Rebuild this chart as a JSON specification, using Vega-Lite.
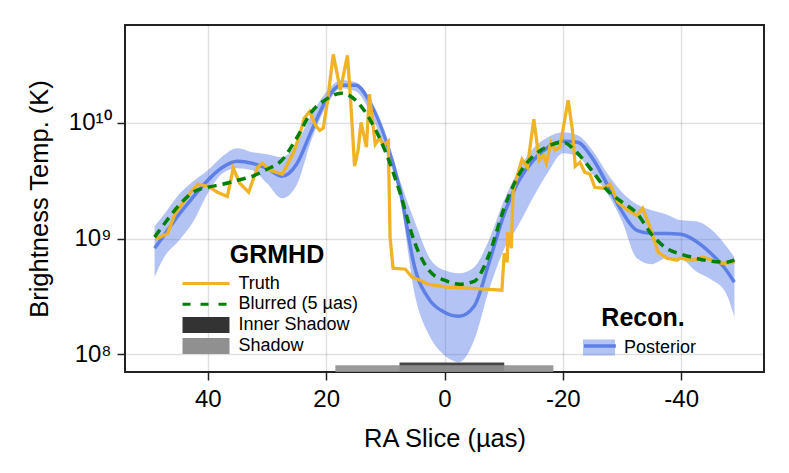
{
  "$schema": "https://vega.github.io/schema/vega-lite/v6.json",
  "description": "Brightness temperature by RA slice, GRMHD truth against reconstruction posterior.",
  "width": 639,
  "height": 347,
  "autosize": {"type": "none"},
  "padding": {"left": 125, "top": 25, "right": 25, "bottom": 101},
  "background": "white",
  "datasets": {
    "curves": [
      {"ra": 49, "mean": 8.26e8, "hi": 1.28e9, "lo": 4.64e8, "blurred": 1.03e9},
      {"ra": 47.5, "mean": 1.05e9, "hi": 1.59e9, "lo": 6.77e8, "blurred": 1.31e9},
      {"ra": 45, "mean": 1.59e9, "hi": 2.37e9, "lo": 9.5e8, "blurred": 1.91e9},
      {"ra": 42.5, "mean": 2.28e9, "hi": 3.13e9, "lo": 1.39e9, "blurred": 2.52e9},
      {"ra": 40, "mean": 3.2e9, "hi": 3.9e9, "lo": 2.47e9, "blurred": 2.78e9},
      {"ra": 37.5, "mean": 4.14e9, "hi": 5.16e9, "lo": 3.67e9, "blurred": 2.95e9},
      {"ra": 35, "mean": 4.66e9, "hi": 6.04e9, "lo": 4.06e9, "blurred": 3.2e9},
      {"ra": 32.5, "mean": 4.48e9, "hi": 5.58e9, "lo": 3.9e9, "blurred": 3.46e9},
      {"ra": 30, "mean": 4.06e9, "hi": 5.37e9, "lo": 3.01e9, "blurred": 3.98e9},
      {"ra": 27.5, "mean": 3.46e9, "hi": 5.05e9, "lo": 2.23e9, "blurred": 4.76e9},
      {"ra": 25, "mean": 4.4e9, "hi": 6.68e9, "lo": 2.9e9, "blurred": 7.38e9},
      {"ra": 22.5, "mean": 8.48e9, "hi": 1.17e10, "lo": 7.09e9, "blurred": 1.24e10},
      {"ra": 20, "mean": 1.57e10, "hi": 1.84e10, "lo": 1.39e10, "blurred": 1.6e10},
      {"ra": 17.5, "mean": 2.12e10, "hi": 2.34e10, "lo": 2.0e10, "blurred": 1.81e10},
      {"ra": 15, "mean": 2.12e10, "hi": 2.25e10, "lo": 1.88e10, "blurred": 1.57e10},
      {"ra": 12.5, "mean": 1.48e10, "hi": 1.57e10, "lo": 1.21e10, "blurred": 1.05e10},
      {"ra": 10, "mean": 7.38e9, "hi": 7.67e9, "lo": 5.81e9, "blurred": 5.69e9},
      {"ra": 7.5, "mean": 2.62e9, "hi": 3.13e9, "lo": 2.19e9, "blurred": 2.47e9},
      {"ra": 5, "mean": 5.55e8, "hi": 1.39e9, "lo": 3.24e8, "blurred": 9.13e8},
      {"ra": 2.5, "mean": 2.94e8, "hi": 6.77e8, "lo": 1.43e8, "blurred": 5.23e8},
      {"ra": 0, "mean": 2.31e8, "hi": 5.33e8, "lo": 9.82e7, "blurred": 4.37e8},
      {"ra": -2.5, "mean": 2.13e8, "hi": 5.02e8, "lo": 8.55e7, "blurred": 4.04e8},
      {"ra": -5, "mean": 2.6e8, "hi": 5.66e8, "lo": 1.32e8, "blurred": 4.28e8},
      {"ra": -7.5, "mean": 6.13e8, "hi": 9.68e8, "lo": 3.58e8, "blurred": 7.19e8},
      {"ra": -10, "mean": 1.59e9, "hi": 2.1e9, "lo": 7.94e8, "blurred": 1.79e9},
      {"ra": -12.5, "mean": 3.13e9, "hi": 3.9e9, "lo": 1.31e9, "blurred": 3.53e9},
      {"ra": -15, "mean": 4.76e9, "hi": 6.04e9, "lo": 2.28e9, "blurred": 5.16e9},
      {"ra": -17.5, "mean": 6.17e9, "hi": 7.53e9, "lo": 3.75e9, "blurred": 6.29e9},
      {"ra": -20, "mean": 6.95e9, "hi": 8.31e9, "lo": 5.47e9, "blurred": 6.81e9},
      {"ra": -22.5, "mean": 6.81e9, "hi": 7.83e9, "lo": 5.16e9, "blurred": 5.47e9},
      {"ra": -25, "mean": 4.95e9, "hi": 5.81e9, "lo": 3.6e9, "blurred": 3.83e9},
      {"ra": -27.5, "mean": 2.95e9, "hi": 3.67e9, "lo": 2.47e9, "blurred": 2.62e9},
      {"ra": -30, "mean": 1.72e9, "hi": 2.52e9, "lo": 1.42e9, "blurred": 2.07e9},
      {"ra": -32.5, "mean": 1.18e9, "hi": 1.98e9, "lo": 6.77e8, "blurred": 1.66e9},
      {"ra": -35, "mean": 1.11e9, "hi": 1.76e9, "lo": 6.01e8, "blurred": 1.09e9},
      {"ra": -37.5, "mean": 1.11e9, "hi": 1.62e9, "lo": 6.77e8, "blurred": 8.26e8},
      {"ra": -40, "mean": 1.09e9, "hi": 1.44e9, "lo": 6.64e8, "blurred": 7.33e8},
      {"ra": -42.5, "mean": 9.5e8, "hi": 1.41e9, "lo": 5.23e8, "blurred": 6.77e8},
      {"ra": -45, "mean": 7.48e8, "hi": 1.21e9, "lo": 4.46e8, "blurred": 6.38e8},
      {"ra": -47.5, "mean": 5.44e8, "hi": 8.77e8, "lo": 3.44e8, "blurred": 6.25e8},
      {"ra": -49, "mean": 4.2e8, "hi": 6.91e8, "lo": 2.09e8, "blurred": 6.51e8}
    ],
    "truth": [
      {"ra": 48.8, "temp": 9.88e8}, {"ra": 46.8, "temp": 1.11e9}, {"ra": 45.5, "temp": 1.66e9},
      {"ra": 42.9, "temp": 2.52e9}, {"ra": 41.7, "temp": 2.95e9}, {"ra": 39.9, "temp": 2.84e9},
      {"ra": 38.4, "temp": 2.52e9}, {"ra": 36.7, "temp": 2.32e9}, {"ra": 35.7, "temp": 4.06e9},
      {"ra": 34.6, "temp": 3.01e9}, {"ra": 33.1, "temp": 2.52e9}, {"ra": 31.6, "temp": 4.14e9},
      {"ra": 30.8, "temp": 4.48e9}, {"ra": 29.4, "temp": 3.9e9}, {"ra": 27.4, "temp": 3.6e9},
      {"ra": 25.5, "temp": 5.58e9}, {"ra": 24.4, "temp": 8.14e9}, {"ra": 23.7, "temp": 1.1e10},
      {"ra": 22.8, "temp": 1.26e10}, {"ra": 21.8, "temp": 9.55e9}, {"ra": 21.1, "temp": 8.64e9},
      {"ra": 20.5, "temp": 9.0e9}, {"ra": 19.8, "temp": 1.51e10}, {"ra": 18.8, "temp": 3.92e10},
      {"ra": 17.6, "temp": 1.92e10}, {"ra": 16.4, "temp": 3.85e10}, {"ra": 15.9, "temp": 1.67e10},
      {"ra": 15.2, "temp": 4.23e9}, {"ra": 14.6, "temp": 5.81e9}, {"ra": 14.1, "temp": 1.01e10},
      {"ra": 13.2, "temp": 6.17e9}, {"ra": 12.7, "temp": 1.77e10}, {"ra": 11.7, "temp": 6.55e9},
      {"ra": 11.0, "temp": 7.38e9}, {"ra": 10.3, "temp": 6.42e9}, {"ra": 9.5, "temp": 6.95e9},
      {"ra": 9.2, "temp": 1.03e9}, {"ra": 8.7, "temp": 5.55e8}, {"ra": 6.6, "temp": 5.44e8},
      {"ra": 5.5, "temp": 4.64e8}, {"ra": 4.1, "temp": 4.37e8}, {"ra": 2.8, "temp": 4.04e8},
      {"ra": -0.6, "temp": 3.8e8}, {"ra": -4.8, "temp": 3.72e8}, {"ra": -9.7, "temp": 3.58e8},
      {"ra": -10.1, "temp": 7.48e8}, {"ra": -10.6, "temp": 6.25e8}, {"ra": -10.7, "temp": 1.14e9},
      {"ra": -11.3, "temp": 8.26e8}, {"ra": -11.6, "temp": 2.62e9}, {"ra": -13.1, "temp": 4.85e9},
      {"ra": -14.0, "temp": 4.14e9}, {"ra": -15.1, "temp": 1.08e10}, {"ra": -16.0, "temp": 4.76e9},
      {"ra": -16.7, "temp": 5.26e9}, {"ra": -17.2, "temp": 4.48e9}, {"ra": -18.0, "temp": 6.81e9},
      {"ra": -18.7, "temp": 5.81e9}, {"ra": -19.5, "temp": 6.17e9}, {"ra": -20.9, "temp": 1.57e10},
      {"ra": -21.6, "temp": 8.83e9}, {"ra": -22.1, "temp": 4.23e9}, {"ra": -22.9, "temp": 4.57e9},
      {"ra": -23.7, "temp": 3.75e9}, {"ra": -24.6, "temp": 3.6e9}, {"ra": -25.4, "temp": 2.78e9},
      {"ra": -26.8, "temp": 2.73e9}, {"ra": -28.0, "temp": 2.95e9}, {"ra": -29.3, "temp": 2.07e9},
      {"ra": -30.5, "temp": 1.83e9}, {"ra": -32.5, "temp": 1.59e9}, {"ra": -33.5, "temp": 1.83e9},
      {"ra": -35.1, "temp": 1.11e9}, {"ra": -36.1, "temp": 7.63e8}, {"ra": -37.6, "temp": 6.77e8},
      {"ra": -39.3, "temp": 6.51e8}, {"ra": -39.8, "temp": 6.77e8}, {"ra": -42.0, "temp": 6.51e8},
      {"ra": -43.7, "temp": 6.91e8}, {"ra": -46.9, "temp": 6.13e8}, {"ra": -49.0, "temp": 6.25e8}
    ],
    "shadows": [
      {"item": "Inner Shadow", "start": 7.6, "end": -10.1, "top": 8.5e7, "floor": 7.03e7},
      {"item": "Shadow", "start": 18.45, "end": -18.4, "top": 8.05e7, "floor": 7.03e7}
    ]
  },
  "encoding": {
    "x": {
      "type": "quantitative",
      "scale": {"domain": [54, -54], "nice": false, "zero": false},
      "axis": {
        "title": "RA Slice (µas)",
        "values": [40, 20, 0, -20, -40],
        "labelExpr": "'' + datum.value",
        "titleFontSize": 25.5,
        "titleFontWeight": "normal",
        "titlePadding": 15,
        "labelFontSize": 24,
        "labelPadding": 7,
        "tickSize": 8,
        "tickWidth": 1.5,
        "tickColor": "#222",
        "labelColor": "black",
        "titleColor": "black",
        "domain": false,
        "gridColor": "#000",
        "gridOpacity": 0.12,
        "gridWidth": 1.5
      }
    },
    "y": {
      "type": "quantitative",
      "scale": {"type": "log", "domain": [7.03e7, 7.03e10], "nice": false},
      "axis": {
        "title": "Brightness Temp. (K)",
        "values": [1e8, 1e9, 1e10],
        "labelExpr": "datum.value >= 1e10 ? '10¹⁰' : datum.value >= 1e9 ? '10⁹' : '10⁸'",
        "titleFontSize": 25.5,
        "titleFontWeight": "normal",
        "titlePadding": 16,
        "labelFontSize": 24,
        "labelPadding": 6,
        "tickSize": 8,
        "tickWidth": 1.5,
        "tickColor": "#222",
        "labelColor": "black",
        "titleColor": "black",
        "domain": false,
        "gridColor": "#000",
        "gridOpacity": 0.12,
        "gridWidth": 1.5
      }
    }
  },
  "layer": [
    {
      "data": {"name": "curves"},
      "mark": {"type": "area", "interpolate": "monotone"},
      "encoding": {
        "x": {"field": "ra"},
        "y": {"field": "hi"},
        "y2": {"field": "lo"},
        "fill": {
          "datum": "Posterior",
          "type": "nominal",
          "scale": {"domain": ["Posterior"], "range": ["rgba(65,105,225,0.4)"]},
          "legend": {
            "orient": "none",
            "legendX": 465,
            "legendY": 281,
            "title": "Recon.",
            "titleFontSize": 25,
            "titleFontWeight": "bold",
            "titleColor": "black",
            "titleAnchor": "middle",
            "titlePadding": 7.5,
            "labelFontSize": 18,
            "labelColor": "black",
            "labelOffset": 16,
            "symbolSize": 256,
            "encoding": {
              "symbols": {
                "shape": {"value": "M-2,-1H2V1H-2Z"},
                "strokeWidth": {"value": 0}
              }
            }
          }
        }
      }
    },
    {
      "data": {"name": "curves"},
      "mark": {"type": "line", "interpolate": "monotone", "strokeWidth": 3.5, "opacity": 0.75},
      "encoding": {
        "x": {"field": "ra"},
        "y": {"field": "mean"},
        "stroke": {
          "datum": "Posterior mean",
          "type": "nominal",
          "scale": {"domain": ["Posterior mean"], "range": ["#4169e1"]},
          "legend": {
            "orient": "none",
            "legendX": 465,
            "legendY": 311,
            "title": null,
            "labelExpr": "''",
            "labelFontSize": 18,
            "labelOffset": 16,
            "symbolSize": 256,
            "zindex": 2,
            "encoding": {
              "symbols": {
                "shape": {"value": "M-2,0H2"},
                "strokeWidth": {"value": 3.5},
                "fill": {"value": {"signal": "'transparent'"}}
              }
            }
          }
        }
      }
    },
    {
      "data": {"name": "shadows"},
      "mark": {"type": "rect", "opacity": 0.9},
      "encoding": {
        "x": {"field": "start"},
        "x2": {"field": "end"},
        "y": {"field": "top"},
        "y2": {"field": "floor"},
        "color": {
          "field": "item",
          "type": "nominal",
          "sort": null,
          "scale": {
            "domain": ["Truth", "Blurred (5 µas)", "Inner Shadow", "Shadow"],
            "range": ["#efb325", "#008000", "#333333", "#909090"]
          },
          "legend": {
            "orient": "none",
            "legendX": 72,
            "legendY": 218,
            "title": "GRMHD",
            "titleFontSize": 25,
            "titleFontWeight": "bold",
            "titleColor": "black",
            "titleAnchor": "middle",
            "titlePadding": 6.5,
            "labelFontSize": 18,
            "labelColor": "black",
            "labelOffset": 23.5,
            "symbolSize": 324,
            "rowPadding": 2.8,
            "encoding": {
              "symbols": {
                "shape": {"value": {"signal": "datum.value == 'Truth' || datum.value == 'Blurred (5 µas)' ? 'M-2.61,0H2.61' : 'M-2.61,-0.89H2.61V0.89H-2.61Z'"}},
                "opacity": {"value": 1},
                "strokeWidth": {"value": {"signal": "datum.value == 'Truth' || datum.value == 'Blurred (5 µas)' ? 3 : 0"}},
                "strokeDash": {"value": {"signal": "datum.value == 'Blurred (5 µas)' ? [8, 10] : []"}},
                "stroke": {"value": {"signal": "datum.value == 'Truth' ? '#efb325' : datum.value == 'Blurred (5 µas)' ? '#008000' : 'transparent'"}},
                "fill": {"value": {"signal": "datum.value == 'Inner Shadow' ? '#333333' : datum.value == 'Shadow' ? '#999999' : 'transparent'"}}
              }
            }
          }
        }
      }
    },
    {
      "data": {"name": "truth"},
      "mark": {"type": "line", "strokeWidth": 3.3},
      "encoding": {
        "x": {"field": "ra"},
        "y": {"field": "temp"},
        "color": {"datum": "Truth", "type": "nominal"}
      }
    },
    {
      "data": {"name": "curves"},
      "mark": {"type": "line", "interpolate": "monotone", "strokeWidth": 3.5, "strokeDash": [9, 6]},
      "encoding": {
        "x": {"field": "ra"},
        "y": {"field": "blurred"},
        "color": {"datum": "Blurred (5 µas)", "type": "nominal"}
      }
    }
  ],
  "config": {
    "font": "Liberation Sans",
    "view": {"stroke": "#222", "strokeWidth": 2}
  }
}
